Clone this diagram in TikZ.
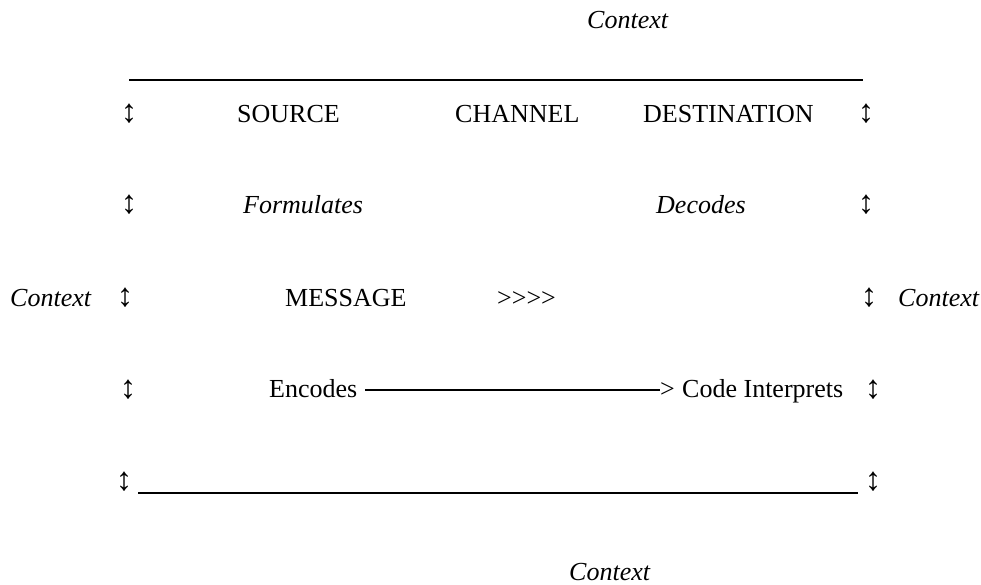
\documentclass[tikz,border=0pt]{standalone}
\usepackage{fontspec}
\setmainfont{Liberation Serif}
\newfontfamily\plainserif{Liberation Serif}
\begin{document}
\begin{tikzpicture}[x=1pt,y=-1pt,
  txt/.style={inner sep=0pt,anchor=base west,font=\fontsize{26}{30}\selectfont},
  itxt/.style={txt,font=\fontsize{26}{30}\selectfont\itshape},
  updown/.style={inner sep=0pt,anchor=center,font=\fontsize{33}{36}\selectfont},
  rule/.style={line width=1.2pt}]
\useasboundingbox (0,0) rectangle (981,584);
% top context and rule
\node[itxt] (ctop) at (587,28) {Context};
\coordinate (rtl) at (129,80);
\coordinate (rtr) at (863,80);
\draw[rule] (rtl) -- (rtr);
% row 1
\node[updown] (a1l) at (129,114) {↕};
\node[txt] (src) at (237,122) {SOURCE};
\node[txt] (chn) at (455,122) {CHANNEL};
\node[txt] (dst) at (643,122) {DESTINATION};
\node[updown] (a1r) at (866,114) {↕};
% row 2
\node[updown] (a2l) at (129,205) {↕};
\node[itxt] (form) at (243,213) {Formulates};
\node[itxt] (dec) at (656,213) {Decodes};
\node[updown] (a2r) at (866,205) {↕};
% row 3
\node[itxt] (cl) at (10,306) {Context};
\node[updown] (a3l) at (125,298) {↕};
\node[txt] (msg) at (285,306) {MESSAGE};
\node[txt] (gts) at (497,306) {\plainserif >>>>};
\node[updown] (a3r) at (869,298) {↕};
\node[itxt] (cr) at (898,306) {Context};
% row 4
\node[updown] (a4l) at (128,390) {↕};
\node[txt] (enc) at (269,397) {Encodes};
\node[txt] (gt) at (660,397) {>};
\node[txt] (code) at (682,397) {Code Interprets};
\node[updown] (a4r) at (873,390) {↕};
\draw[line width=1.1pt] ([xshift=8pt,yshift=7pt]enc.base east) -- ([yshift=7pt]gt.base west);
% row 5
\node[updown] (a5l) at (124,482) {↕};
\node[updown] (a5r) at (873,482) {↕};
\coordinate (rbl) at (138,493);
\coordinate (rbr) at (858,493);
\draw[rule] (rbl) -- (rbr);
% bottom context
\node[itxt] (cbot) at (569,580) {Context};
\end{tikzpicture}
\end{document}
